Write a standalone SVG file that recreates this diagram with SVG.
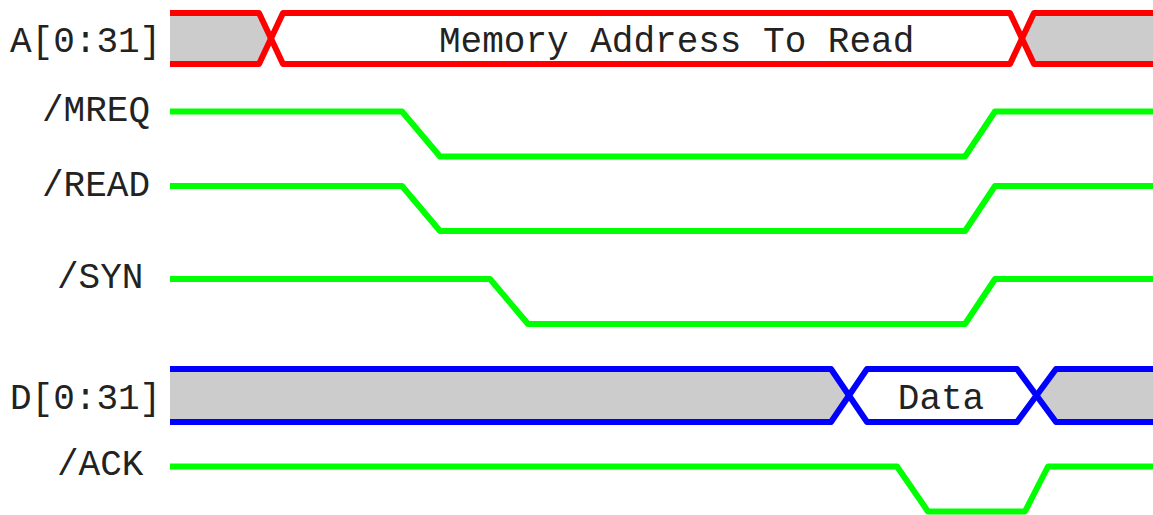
<svg xmlns="http://www.w3.org/2000/svg" width="1153" height="515" viewBox="0 0 1153 515">
  <style>
    .lbl { font-family: "Liberation Mono", "Courier New", monospace; font-size: 36px; fill: #222222; }
    .sig { fill: none; stroke-width: 6; stroke-linejoin: round; }
    .red { stroke: #ff0000; }
    .green { stroke: #00ff00; }
    .blue { stroke: #0000ff; }
    .gray { fill: #cccccc; stroke: none; }
  </style>
  <rect x="0" y="0" width="1153" height="515" fill="#ffffff"/>

  <g id="sig-A">
    <polygon class="gray" points="170,13 259,13 271,38.5 259,64 170,64"/>
    <polygon class="gray" points="1153,13 1034,13 1022,38.5 1034,64 1153,64"/>
    <path class="sig red" d="M170,13 L259,13 L283,64 L1010,64 L1034,13 L1153,13"/>
    <path class="sig red" d="M170,64 L259,64 L283,13 L1010,13 L1034,64 L1153,64"/>
    <text class="lbl" x="10" y="52">A[0:31]</text>
    <text class="lbl" x="439" y="52">Memory Address To Read</text>
  </g>

  <g id="sig-MREQ">
    <path class="sig green" d="M170,111.5 L402,111.5 L440,156.5 L965,156.5 L995,111.5 L1153,111.5"/>
    <text class="lbl" x="42" y="121">/MREQ</text>
  </g>

  <g id="sig-READ">
    <path class="sig green" d="M170,186 L402,186 L440,231 L965,231 L995,186 L1153,186"/>
    <text class="lbl" x="42" y="196">/READ</text>
  </g>

  <g id="sig-SYN">
    <path class="sig green" d="M170,279 L490,279 L528,324 L965,324 L995,279 L1153,279"/>
    <text class="lbl" x="57" y="288">/SYN</text>
  </g>

  <g id="sig-D">
    <polygon class="gray" points="170,369 831,369 849,395.5 831,422 170,422"/>
    <polygon class="gray" points="1153,369 1056,369 1036.5,395.5 1056,422 1153,422"/>
    <path class="sig blue" d="M170,369 L831,369 L867,422 L1017,422 L1056,369 L1153,369"/>
    <path class="sig blue" d="M170,422 L831,422 L867,369 L1017,369 L1056,422 L1153,422"/>
    <text class="lbl" x="10" y="409">D[0:31]</text>
    <text class="lbl" x="941" y="409" text-anchor="middle">Data</text>
  </g>

  <g id="sig-ACK">
    <path class="sig green" d="M170,466.5 L897,466.5 L928,511.5 L1025,511.5 L1048,466.5 L1153,466.5"/>
    <text class="lbl" x="57" y="475">/ACK</text>
  </g>
</svg>
